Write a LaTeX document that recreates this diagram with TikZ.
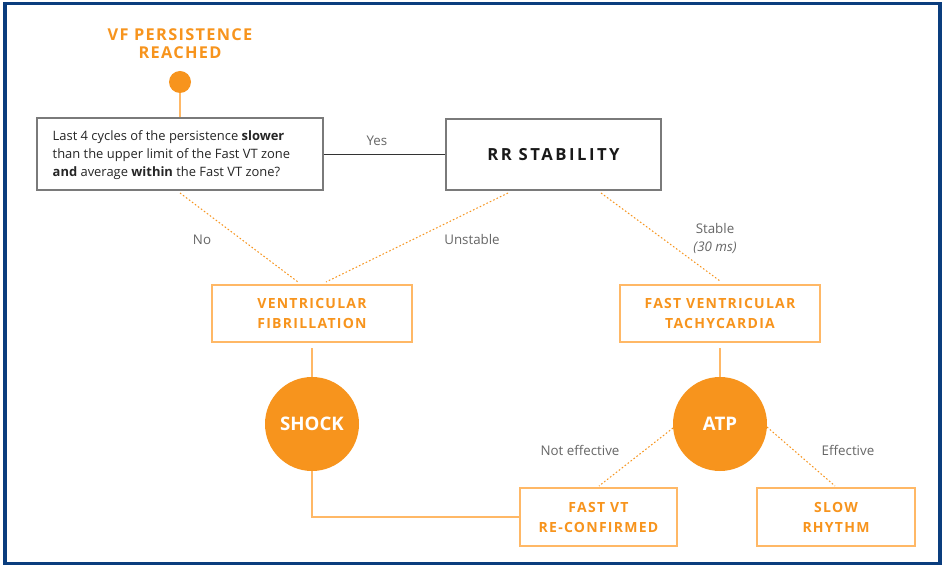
\documentclass[tikz,border=0pt]{standalone}
\usepackage{fontspec}
\setmainfont{Open Sans}
\newfontfamily\capsfont[LetterSpace=9]{Open Sans}
\newfontfamily\titlecaps[LetterSpace=8]{Open Sans}
\newfontfamily\widecaps[LetterSpace=15]{Open Sans}
\usetikzlibrary{positioning}
\definecolor{frameblue}{HTML}{0A3D7E}
\definecolor{orng}{HTML}{F7941D}
\definecolor{orngline}{HTML}{FFB866}
\definecolor{boxgray}{HTML}{7A7A7A}
\definecolor{labelgray}{HTML}{666666}
\tikzset{
  px/.style={x=0.75pt,y=-0.75pt},
  questionbox/.style={draw=boxgray,line width=1.5pt,fill=white,inner sep=0pt,
    minimum width=214.5pt,minimum height=54pt},
  rrbox/.style={draw=boxgray,line width=1.1pt,fill=white,inner sep=0pt,
    minimum width=161.25pt,minimum height=53.25pt,
    font=\widecaps\bfseries\fontsize{12.5}{15}\selectfont,text=black!90},
  outcome/.style={draw=orngline,line width=1.1pt,fill=white,inner sep=0pt,
    align=center,text=orng,font=\capsfont\bfseries\fontsize{10.5}{15}\selectfont},
  therapy/.style={circle,fill=orng,inner sep=0pt,minimum size=70.5pt,
    text=white,font=\bfseries\fontsize{14}{16}\selectfont},
  startdot/.style={circle,fill=orng,inner sep=0pt,minimum size=16.5pt},
  solidlink/.style={draw=orngline,line width=1.1pt},
  dotlink/.style={draw=orng,line width=0.75pt,dash pattern=on 1.2pt off 1.6pt},
  yeslink/.style={draw=black!80,line width=0.9pt},
  branch/.style={text=labelgray,font=\fontsize{10}{13}\selectfont},
}
\begin{document}
\begin{tikzpicture}[px]
% page and frame
\useasboundingbox (0,0) rectangle (945,566);
\fill[white] (0,0) rectangle (945,566);
\draw[frameblue,line width=2.4pt] (5,3.5) rectangle (940,563.5);

% start event
\node[text=orng,align=center,font=\titlecaps\bfseries\fontsize{12.25}{13.5}\selectfont]
  (start) at (180,44) {VF PERSISTENCE\\REACHED};
\node[startdot] (dot) at (180,82) {};

% decision boxes
\node[questionbox] (q) at (180,154.5) {};
\node[anchor=west,align=left,text=black!85,font=\fontsize{9.7}{13.5}\selectfont]
  (qtext) at (48,155) {Last 4 cycles of the persistence \textbf{slower}\\
  than the upper limit of the Fast VT zone\\
  \textbf{and} average \textbf{within} the Fast VT zone?};
\node[rrbox] (rr) at (553.5,154.5) {RR STABILITY};

% outcomes
\node[outcome,minimum width=150pt,minimum height=42.75pt] (vf) at (312,313.5)
  {VENTRICULAR\\FIBRILLATION};
\node[outcome,minimum width=150pt,minimum height=42.75pt] (fvt) at (720,313.5)
  {FAST VENTRICULAR\\TACHYCARDIA};
\node[therapy] (shock) at (312,424) {SHOCK};
\node[therapy] (atp) at (720,424) {ATP};
\node[outcome,minimum width=117.75pt,minimum height=43.5pt] (reconf) at (598.5,517)
  {FAST VT\\RE-CONFIRMED};
\node[outcome,minimum width=118.5pt,minimum height=43.5pt] (slow) at (836,517)
  {SLOW\\RHYTHM};

% connector end points on the box edges
\coordinate (qno) at (180,193);
\coordinate (vfl) at (298,282);
\coordinate (vfr) at (326,282);
\coordinate (rrl) at (508,193);
\coordinate (rrr) at (601,193);
\coordinate (fvtt) at (720,281);
\coordinate (atpl) at (673,428);
\coordinate (atpr) at (767,427);
\coordinate (recl) at (599,486);
\coordinate (slwt) at (835,486);
\coordinate (corner) at (312,517);

% connectors
\draw[solidlink] (dot) -- (q.north -| dot);
\draw[yeslink] (q.east) -- (rr.west);
\draw[dotlink] (qno) -- (vfl);
\draw[dotlink] (rrl) -- (vfr);
\draw[dotlink] (rrr) -- (fvtt);
\draw[solidlink,shorten <=4pt] (vf.south) -- (shock.north);
\draw[solidlink,shorten <=4pt] (fvt.south) -- (atp.north);
\draw[solidlink] (shock.south) -- (corner) -- (reconf.west);
\draw[dotlink] (atpl) -- (recl);
\draw[dotlink] (atpr) -- (slwt);

% branch labels
\node[branch] (yes) at (377,141) {Yes};
\node[branch] (no) at (202,240) {No};
\node[branch] (unst) at (472,240) {Unstable};
\node[branch,align=center] (stab) at (715,238.5) {Stable\\\textit{(30 ms)}};
\node[branch] (noteff) at (580,450) {Not effective};
\node[branch] (eff) at (848,450) {Effective};
\end{tikzpicture}
\end{document}
